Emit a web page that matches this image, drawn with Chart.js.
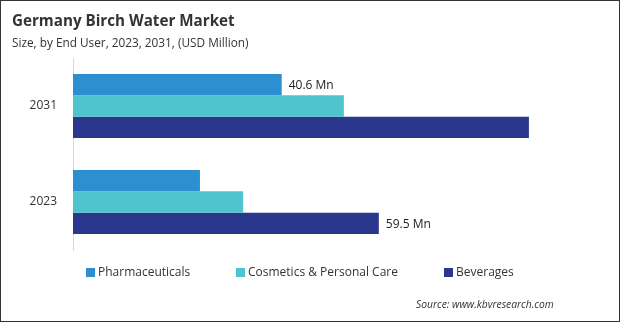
<!DOCTYPE html>
<html>
<head>
<meta charset="utf-8">
<script src="https://cdn.jsdelivr.net/npm/chart.js@4"></script>
<style>
  body { margin: 0; background: #fff; }
  #wrap {
    position: relative; width: 620px; height: 322px;
    box-sizing: border-box; border: 1px solid #333; overflow: hidden;
    font-family: "Open Sans", sans-serif; color: #333;
  }
  #chart { position: absolute; left: -1px; top: -1px; }
  .title { position: absolute; left: 11px; top: 9px; font-size: 15.2px; font-weight: 700; color: #333; }
  .sub { position: absolute; left: 11px; top: 33px; font-size: 11.8px; color: #333; }
  .legend { position: absolute; top: 262px; left: 0; font-size: 12px; color: #333; }
  .legend span { position: absolute; white-space: nowrap; }
  .legend i { display: inline-block; width: 9px; height: 9px; margin-right: 3px; vertical-align: -1px; }
  .src { position: absolute; left: 415px; top: 296px; font-size: 10.3px; font-style: italic; color: #333; }
</style>
</head>
<body>
<div id="wrap">
  <canvas id="chart" width="620" height="322"></canvas>
  <div class="title">Germany Birch Water Market</div>
  <div class="sub">Size, by End User, 2023, 2031, (USD Million)</div>
  <div class="legend" id="legend"></div>
  <div class="src">Source: www.kbvresearch.com</div>
</div>
<script>
  const years = ["2031", "2023"];
  const seriesNames = ["Pharmaceuticals", "Cosmetics & Personal Care", "Beverages"];
  const pharmaceuticals = [40.6, 24.7];
  const cosmetics = [52.7, 33.1];
  const beverages = [88.7, 59.5];
  const colors = ["#2b8fd0", "#4fc3ce", "#2b378c"];

  // which bars carry a value label: [datasetIndex, dataIndex]
  const labelled = [[0, 0], [2, 1]];

  const legendX = [85, 235, 443];
  const legend = document.getElementById("legend");
  seriesNames.forEach((name, i) => {
    const s = document.createElement("span");
    s.style.left = legendX[i] + "px";
    s.innerHTML = '<i style="background:' + colors[i] + '"></i>' + name.replace("&", "&amp;");
    legend.appendChild(s);
  });

  const valueLabels = {
    id: "valueLabels",
    afterDatasetsDraw(chart) {
      const ctx = chart.ctx;
      ctx.save();
      ctx.font = "12px 'Open Sans', sans-serif";
      ctx.fillStyle = "#222";
      ctx.textBaseline = "middle";
      labelled.forEach(([d, i]) => {
        const bar = chart.getDatasetMeta(d).data[i];
        const v = chart.data.datasets[d].data[i];
        ctx.fillText(v.toFixed(1) + " Mn", bar.x + 7, bar.y + 1);
      });
      ctx.restore();
    }
  };

  const data = {
    labels: years,
    datasets: [
      { label: seriesNames[0], data: pharmaceuticals, backgroundColor: colors[0] },
      { label: seriesNames[1], data: cosmetics, backgroundColor: colors[1] },
      { label: seriesNames[2], data: beverages, backgroundColor: colors[2] },
    ],
  };

  new Chart(document.getElementById("chart"), {
    type: "bar",
    data: data,
    options: {
      indexAxis: "y",
      responsive: false,
      animation: false,
      devicePixelRatio: 1,
      barPercentage: 1,
      categoryPercentage: 0.667,
      layout: { padding: { left: 13, right: 33, top: 58, bottom: 72 } },
      scales: {
        x: { display: false, min: 0, max: 100 },
        y: {
          afterFit: (s) => { s.width = 60; },
          grid: { display: false, drawTicks: false },
          border: { display: true, color: "#d9d9d9", width: 1 },
          ticks: { padding: 16, color: "#333", font: { family: "'Open Sans', sans-serif", size: 12 } },
        },
      },
      plugins: {
        legend: { display: false },
        tooltip: { enabled: false },
      },
    },
    plugins: [valueLabels],
  });
</script>
</body>
</html>
